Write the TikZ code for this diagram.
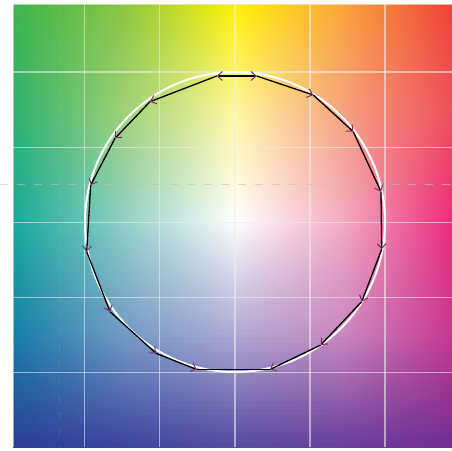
\documentclass[tikz,border=0pt]{standalone}
\usetikzlibrary{arrows.meta}
\definecolor{c00}{RGB}{60,180,75}
\definecolor{c01}{RGB}{140,198,65}
\definecolor{c02}{RGB}{255,242,0}
\definecolor{c03}{RGB}{250,165,55}
\definecolor{c04}{RGB}{238,65,54}
\definecolor{c10}{RGB}{45,178,110}
\definecolor{c11}{RGB}{160,210,120}
\definecolor{c12}{RGB}{255,247,160}
\definecolor{c13}{RGB}{247,162,128}
\definecolor{c14}{RGB}{238,80,90}
\definecolor{c20}{RGB}{22,170,155}
\definecolor{c21}{RGB}{145,208,200}
\definecolor{c22}{RGB}{255,255,255}
\definecolor{c23}{RGB}{244,170,195}
\definecolor{c24}{RGB}{236,42,123}
\definecolor{c30}{RGB}{20,128,168}
\definecolor{c31}{RGB}{115,155,198}
\definecolor{c32}{RGB}{175,170,212}
\definecolor{c33}{RGB}{202,135,192}
\definecolor{c34}{RGB}{200,55,145}
\definecolor{c40}{RGB}{42,62,150}
\definecolor{c41}{RGB}{60,68,158}
\definecolor{c42}{RGB}{85,75,160}
\definecolor{c43}{RGB}{105,62,155}
\definecolor{c44}{RGB}{112,45,145}
\definecolor{arr}{RGB}{125,45,110}
\def\XS{{13,124,235,343,452}}
\def\YS{{4,113,222,334,447}}
\tikzset{
  gridline/.style={white!85!gray, opacity=0.6, line width=1.3pt},
  dashline/.style={black!25, opacity=0.6, line width=0.8pt, dash pattern=on 8pt off 9pt},
  ring/.style={white, line width=2pt},
  seg/.style={black, line width=1.3pt, -{Straight Barb[length=5pt,width=9pt,color=arr,line width=1pt]}},
  plainseg/.style={black, line width=1.3pt}
}
\begin{document}
\begin{tikzpicture}[x=1pt,y=-1pt]
\useasboundingbox (0,0) rectangle (452,450);
\begin{scope}
\clip (13,4) rectangle (452,447);
\foreach \r in {0,...,3}{
  \pgfmathtruncatemacro\rn{\r+1}
  \pgfmathsetmacro\ya{\YS[\r]}
  \pgfmathsetmacro\yb{\YS[\rn]}
  \foreach \k in {0,...,24}{
    \pgfmathsetmacro\yt{\ya+(\yb-\ya)*\k/25}
    \pgfmathsetmacro\ybt{\ya+(\yb-\ya)*(\k+1)/25+0.6}
    \pgfmathtruncatemacro\tp{(\k+0.5)*4}
    \foreach \c in {0,...,3}{
      \pgfmathtruncatemacro\cn{\c+1}
      \pgfmathsetmacro\xa{\XS[\c]}
      \pgfmathsetmacro\xb{\XS[\cn]+0.6}
      \shade[left color=c\rn\c!\tp!c\r\c, right color=c\rn\cn!\tp!c\r\cn] (\xa,\yt) rectangle (\xb,\ybt);
    }
  }
}
\foreach \x in {13.7,84.3,159.7,235,310,385} \draw[gridline] (\x,4) -- (\x,447);
\foreach \y in {4.7,72,147.3,222.3,297.7,372.7} \draw[gridline] (13,\y) -- (452,\y);
\end{scope}
\draw[dashline] (0,184) -- (452,184);
\draw[dashline, opacity=0.15] (59,4) -- (59,450);
\coordinate (C) at (235,222);
\draw[ring] (C) circle[radius=150];
\coordinate (T) at (236.7,76);
\coordinate (L1) at (216.7,76);
\coordinate (L2) at (150,101.7);
\coordinate (L3) at (115,138.3);
\coordinate (L4) at (90.7,185);
\coordinate (L5) at (86.7,251.7);
\coordinate (L6) at (110,311.7);
\coordinate (L7) at (156,353.3);
\coordinate (L8) at (196.7,369.5);
\coordinate (R1) at (256.7,76);
\coordinate (R2) at (313.3,95);
\coordinate (R3) at (353.3,131.7);
\coordinate (R4) at (381,191.7);
\coordinate (R5) at (381.7,249.3);
\coordinate (R6) at (361.7,301.7);
\coordinate (R7) at (320.7,345);
\coordinate (R8) at (270,369.5);
\draw[seg] (T) -- (L1);
\draw[seg] (L1) -- (L2);
\draw[seg] (L2) -- (L3);
\draw[seg] (L3) -- (L4);
\draw[seg] (L4) -- (L5);
\draw[seg] (L5) -- (L6);
\draw[seg] (L6) -- (L7);
\draw[seg] (L7) -- (L8);
\draw[seg] (T) -- (R1);
\draw[seg] (R1) -- (R2);
\draw[seg] (R2) -- (R3);
\draw[seg] (R3) -- (R4);
\draw[seg] (R4) -- (R5);
\draw[seg] (R5) -- (R6);
\draw[seg] (R6) -- (R7);
\draw[seg] (R7) -- (R8);
\draw[plainseg] (R8) -- (L8);
\end{tikzpicture}
\end{document}
